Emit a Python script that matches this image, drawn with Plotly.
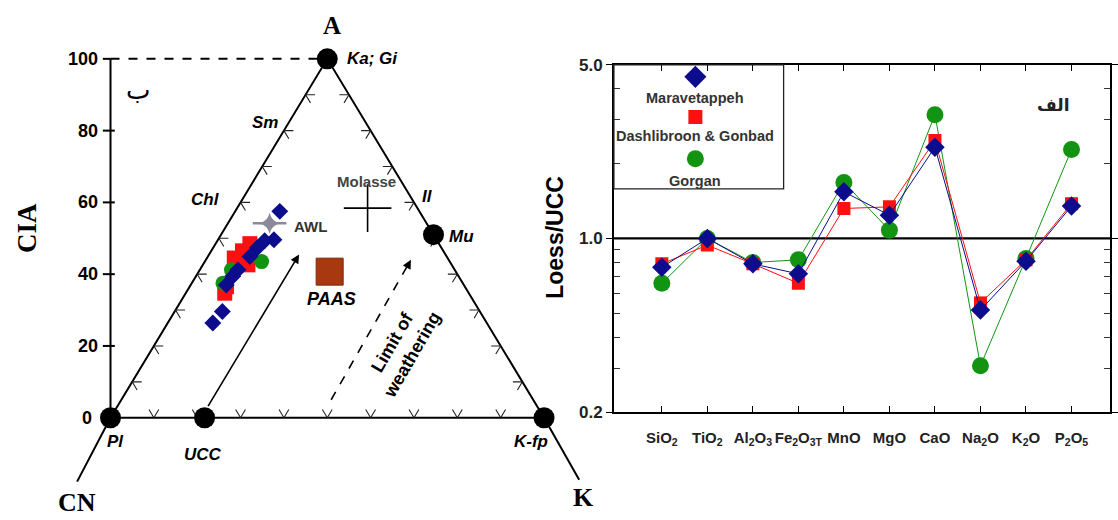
import math
import plotly.graph_objects as go

W, H = 1118, 520

# ---------------- right panel data (Loess / UCC) ----------------
oxides = ["SiO<sub>2</sub>", "TiO<sub>2</sub>", "Al<sub>2</sub>O<sub>3</sub>",
          "Fe<sub>2</sub>O<sub>3T</sub>", "MnO", "MgO", "CaO",
          "Na<sub>2</sub>O", "K<sub>2</sub>O", "P<sub>2</sub>O<sub>5</sub>"]
maravetappeh = [0.765, 1.00, 0.79, 0.72, 1.54, 1.24, 2.33, 0.515, 0.81, 1.35]
dashlibroon = [0.79, 0.94, 0.79, 0.66, 1.32, 1.34, 2.48, 0.55, 0.82, 1.38]
gorgan = [0.66, 1.00, 0.80, 0.82, 1.68, 1.08, 3.15, 0.307, 0.83, 2.28]
series_names = ["Maravetappeh", "Dashlibroon & Gonbad", "Gorgan"]
y_ticks = [0.2, 1.0, 5.0]
y_tick_labels = ["0.2", "1.0", "5.0"]
y_minor = [0.3, 0.4, 0.5, 0.6, 0.7, 0.8, 0.9, 2, 3, 4]

# ---------------- left panel data (A-CN-K ternary, A = CIA) ----------------
mar_A = [57.5, 49.6, 49.3, 47.3, 44.9, 41.2, 39.4, 37.0, 29.6, 26.4]
mar_K = [10.3, 12.9, 10.9, 10.2, 9.7, 8.8, 8.5, 8.2, 11.0, 10.4]
das_A = [48.5, 46.5, 44.5, 42.6, 36.5, 34.7]
das_K = [7.9, 7.2, 6.3, 10.4, 8.5, 9.0]
gor_A = [43.5, 41.2, 37.5]
gor_K = [13.1, 7.3, 7.2]
ref_names = ["Ka; Gi", "Mu", "Pl", "UCC", "K-fp"]
ref_A = [100, 51, 0, 0, 0]
ref_K = [0, 49, 0, 21.7, 100]
paas_A, paas_K = [40.7], [30.2]
molasse_A, molasse_K = [58.4], [30.1]
awl_A, awl_K = [54.2], [9.6]
cia_ticks = [0, 20, 40, 60, 80, 100]
edge_ticks = [10, 20, 30, 40, 50, 60, 70, 80, 90]

BLUE = "#0c0c8c"
RED = "#ff1010"
GREEN = "#129412"
SANS = "Liberation Sans, Arial, sans-serif"
SERIF = "Liberation Serif, Times New Roman, serif"

# photographed-picture calibration (target pixel -> paper fraction)
KX, KY, OY = 0.9946, 0.9638, 9.14


def PX(t):
    return min(1.0, (t / KX) / W)


def PY(t):
    return 1 - ((t - OY) / KY) / H


# left panel frame in target pixels: px = 110.7 + 4.343*x ; py = 418 - 3.59*y
SX, SY = 4.343, 3.59
X0PX, Y0PX = 110.7, 418.0
LEFT_END = 600
xr = [-X0PX / SX, (LEFT_END - X0PX) / SX]
yr = [(Y0PX - (OY + KY * H)) / SY, (Y0PX - OY) / SY]

# right panel category frame: px = 663 + 45.6*i
CAT0, CATW = 663.0, 45.6
x2_right = W * KX
x2r = [(615 - CAT0) / CATW, (x2_right - CAT0) / CATW]


def tern(A, K):
    xs = [k + a / 2.0 for a, k in zip(A, K)]
    return xs, list(A)


fig = go.Figure()

# triangle + extensions to CN and K labels
tri_x = [-7.7, 0, 50, 100, 108.1, None, 0, 100]
tri_y = [-17.8, 0, 100, 0, -17.3, None, 0, 0]
fig.add_trace(go.Scatter(x=tri_x, y=tri_y, mode="lines",
                         line=dict(color="black", width=2), hoverinfo="skip",
                         showlegend=False, xaxis="x", yaxis="y"))


def unit_px(dx, dy):
    px, py = dx * SX, -dy * SY
    n = math.hypot(px, py)
    return px / n, py / n


d_left = unit_px(50, 100)      # Pl -> A
d_right = unit_px(-50, 100)    # K -> A
L = 9.5
cx, cy = [], []


def add_chev(x, y, d1, d2):
    cx.extend([x + d1[0] * L / SX, x, x + d2[0] * L / SX, None])
    cy.extend([y - d1[1] * L / SY, y, y - d2[1] * L / SY, None])


for f in edge_ticks:
    add_chev(f, 0, d_left, d_right)                                   # base
    add_chev(f / 2.0, f, (1, 0), (-d_right[0], -d_right[1]))          # left edge
    add_chev(100 - f / 2.0, f, (-1, 0), (-d_left[0], -d_left[1]))     # right edge
fig.add_trace(go.Scatter(x=cx, y=cy, mode="lines", line=dict(color="#222222", width=1.1),
                         hoverinfo="skip", showlegend=False, xaxis="x", yaxis="y"))

# CIA axis
ax_x, ax_y = [0, 0], [0, 100]
for t in cia_ticks[1:-1]:
    ax_x += [None, -7.7 / SX, 4.3 / SX]
    ax_y += [None, t, t]
ax_x += [None, -7.7 / SX, 0]
ax_y += [None, 100, 100]
fig.add_trace(go.Scatter(x=ax_x, y=ax_y, mode="lines", line=dict(color="black", width=2),
                         hoverinfo="skip", showlegend=False, xaxis="x", yaxis="y"))
fig.add_trace(go.Scatter(x=[0, 50], y=[100, 100], mode="lines",
                         line=dict(color="black", width=2, dash="dash"),
                         hoverinfo="skip", showlegend=False, xaxis="x", yaxis="y"))

# limit of weathering dashed line
fig.add_trace(go.Scatter(x=[50.9, 68.9], y=[5.0, 43.2], mode="lines",
                         line=dict(color="black", width=1.6, dash="dash"),
                         hoverinfo="skip", showlegend=False, xaxis="x", yaxis="y"))

# reference points
rx, ry = tern(ref_A, ref_K)
fig.add_trace(go.Scatter(x=rx, y=ry, mode="markers",
                         marker=dict(color="black", size=21, symbol="circle"),
                         hoverinfo="skip", showlegend=False, xaxis="x", yaxis="y"))
px_, py_ = tern(paas_A, paas_K)
fig.add_trace(go.Scatter(x=px_, y=py_, mode="markers",
                         marker=dict(color="#a8380f", size=27, symbol="square",
                                     line=dict(color="#7a2a0a", width=1)),
                         hoverinfo="skip", showlegend=False, xaxis="x", yaxis="y"))
mx, my = tern(molasse_A, molasse_K)
fig.add_trace(go.Scatter(x=mx, y=my, mode="markers",
                         marker=dict(color="black", size=34, symbol="cross-thin",
                                     line=dict(color="black", width=1.6)),
                         hoverinfo="skip", showlegend=False, xaxis="x", yaxis="y"))
awx, awy = tern(awl_A, awl_K)
fig.add_trace(go.Scatter(x=awx, y=awy, mode="markers",
                         marker=dict(color="#8a8a9a", size=24, symbol="line-ew",
                                     line=dict(color="#8a8a9a", width=2.5)),
                         hoverinfo="skip", showlegend=False, xaxis="x", yaxis="y"))
fig.add_trace(go.Scatter(x=awx, y=awy, mode="markers",
                         marker=dict(color="#8a8a9a", size=15, symbol="star-diamond"),
                         hoverinfo="skip", showlegend=False, xaxis="x", yaxis="y"))

# samples
gx, gy = tern(gor_A, gor_K)
dx_, dy_ = tern(das_A, das_K)
bx, by = tern(mar_A, mar_K)
fig.add_trace(go.Scatter(x=dx_, y=dy_, mode="markers",
                         marker=dict(color=RED, size=15, symbol="square"),
                         showlegend=False, xaxis="x", yaxis="y"))
fig.add_trace(go.Scatter(x=gx, y=gy, mode="markers",
                         marker=dict(color=GREEN, size=15, symbol="circle"),
                         showlegend=False, xaxis="x", yaxis="y"))
fig.add_trace(go.Scatter(x=bx, y=by, mode="markers",
                         marker=dict(color=BLUE, size=13, symbol="diamond"),
                         showlegend=False, xaxis="x", yaxis="y"))

# ---------------- right panel traces ----------------
idx = list(range(len(oxides)))
fig.add_trace(go.Scatter(x=x2r, y=[1, 1], mode="lines",
                         line=dict(color="black", width=2.2), hoverinfo="skip",
                         showlegend=False, xaxis="x2", yaxis="y2"))
for vals, name, col, sym, sz in [(gorgan, series_names[2], GREEN, "circle", 17),
                                 (dashlibroon, series_names[1], RED, "square", 13),
                                 (maravetappeh, series_names[0], BLUE, "diamond", 15)]:
    fig.add_trace(go.Scatter(x=idx, y=vals, mode="lines+markers", name=name,
                             line=dict(color=col, width=1),
                             marker=dict(color=col, size=sz, symbol=sym),
                             showlegend=False, xaxis="x2", yaxis="y2"))

# custom legend (markers above labels)
leg_y_mark = [0.903, 0.58, 0.242]
leg_y_text = [0.734, 0.427, 0.065]
for i, (col, sym, sz) in enumerate([(BLUE, "diamond", 17), (RED, "square", 14), (GREEN, "circle", 17)]):
    fig.add_trace(go.Scatter(x=[0.48], y=[leg_y_mark[i]], mode="markers",
                             marker=dict(color=col, size=sz, symbol=sym),
                             hoverinfo="skip", showlegend=False, xaxis="x3", yaxis="y3"))

annotations = []
for i, nm in enumerate(series_names):
    annotations.append(dict(x=0.48, y=leg_y_text[i], xref="x3", yref="y3", text=f"<b>{nm}</b>",
                            showarrow=False, font=dict(family=SANS, size=14.5, color="#333333")))


def lab(x, y, text, size=17, italic=True, bold=True, family=SANS, color="black",
        xanchor="center", angle=0):
    t = text
    if bold:
        t = f"<b>{t}</b>"
    if italic:
        t = f"<i>{t}</i>"
    annotations.append(dict(x=x, y=y, xref="x", yref="y", text=t, showarrow=False,
                            xanchor=xanchor, yanchor="middle", textangle=angle,
                            font=dict(family=family, size=size, color=color)))


lab(54.0, 100, "Ka; Gi", xanchor="left")
lab(35.6, 82.2, "Sm")
lab(21.9, 60.7, "Chl")
lab(73.1, 61.6, "Il")
lab(80.9, 50.4, "Mu")
lab(1.2, -6.6, "Pl")
lab(21.3, -10.3, "UCC")
lab(97.0, -6.6, "K-fp")
lab(50.9, 33.1, "PAAS", size=18)
lab(59.0, 65.8, "Molasse", size=15, italic=False, color="#444444")
lab(41.8, 53.3, "AWL", size=15, italic=False, color="#333333", xanchor="left")
lab(67.3, 19.2, "Limit of<br>weathering", size=18, italic=False, angle=-60)
lab(51.2, 109.2, "A", size=25, italic=False, family=SERIF)
lab(-7.7, -23.7, "CN", size=26, italic=False, family=SERIF)
lab(109.2, -22.3, "K", size=26, italic=False, family=SERIF)
lab(-19.3, 52.8, "CIA", size=27, italic=False, family=SERIF, angle=-90)
lab(6.3, 91.4, "ب", size=26, italic=False, bold=False, family="DejaVu Sans")
for t in cia_ticks:
    annotations.append(dict(x=(-10.7 if t else -16.5) / SX, y=t, xref="x", yref="y",
                            text=f"<b>{t}</b>", showarrow=False, xanchor="right",
                            yanchor="middle", font=dict(family=SANS, size=18, color="black")))

# arrows
annotations.append(dict(x=43.5, y=45.5, ax=22.3, ay=2.8, xref="x", yref="y", axref="x", ayref="y",
                        text="", showarrow=True, arrowhead=2, arrowsize=1.1, arrowwidth=1.6,
                        arrowcolor="black"))
annotations.append(dict(x=69.3, y=44.0, ax=68.3, ay=41.8, xref="x", yref="y", axref="x", ayref="y",
                        text="", showarrow=True, arrowhead=2, arrowsize=1.1, arrowwidth=1.6,
                        arrowcolor="black"))

# right panel texts
annotations.append(dict(x=PX(556), y=PY(238), xref="paper", yref="paper",
                        text="<b>Loess/UCC</b>", showarrow=False, textangle=-90,
                        font=dict(family=SANS, size=23, color="black")))
annotations.append(dict(x=PX(1073), y=PY(93), xref="paper", yref="paper",
                        text="<b>الف</b>", showarrow=False,
                        font=dict(family="DejaVu Sans", size=17, color="#222222")))

shapes = [dict(type="rect", xref="paper", yref="paper", x0=PX(615), x1=PX(785),
               y0=PY(189), y1=PY(65), line=dict(color="#222222", width=1.3))]

fig.update_layout(
    width=W, height=H, margin=dict(l=0, r=0, t=0, b=0, pad=0),
    paper_bgcolor="white", plot_bgcolor="rgba(0,0,0,0)",
    showlegend=False, annotations=annotations, shapes=shapes,
    xaxis=dict(domain=[0, PX(LEFT_END)], range=xr, visible=False, anchor="y"),
    yaxis=dict(domain=[0, 1], range=yr, visible=False, anchor="x"),
    xaxis2=dict(domain=[PX(615), 1.0], range=x2r, anchor="y2",
                tickmode="array", tickvals=idx, ticktext=oxides,
                ticks="inside", ticklen=6, tickcolor="black", mirror="allticks",
                showline=True, linecolor="black", linewidth=1.5, showgrid=False, zeroline=False,
                tickfont=dict(family=SANS, size=15, color="#222222", weight="bold"),
                ticklabelstandoff=11),
    yaxis2=dict(domain=[PY(412.3), PY(65)], type="log",
                range=[-0.69897, 0.69897], anchor="x2",
                tickmode="array", tickvals=y_ticks, ticktext=y_tick_labels,
                ticks="outside", ticklen=6, tickcolor="black", mirror="allticks",
                showline=True, linecolor="black", linewidth=1.5, showgrid=False, zeroline=False,
                tickfont=dict(family=SANS, size=17, color="#222222", weight="bold"),
                minor=dict(tickvals=y_minor, ticks="inside", ticklen=6, tickcolor="#333333",
                           showgrid=False)),
    xaxis3=dict(domain=[PX(615), PX(785)], range=[0, 1], visible=False, anchor="y3"),
    yaxis3=dict(domain=[PY(189), PY(65)], range=[0, 1], visible=False, anchor="x3"),
)

fig.write_html("out.html", config={"displayModeBar": False},
               post_script="document.body.style.margin='0';document.body.style.overflow='hidden';")
